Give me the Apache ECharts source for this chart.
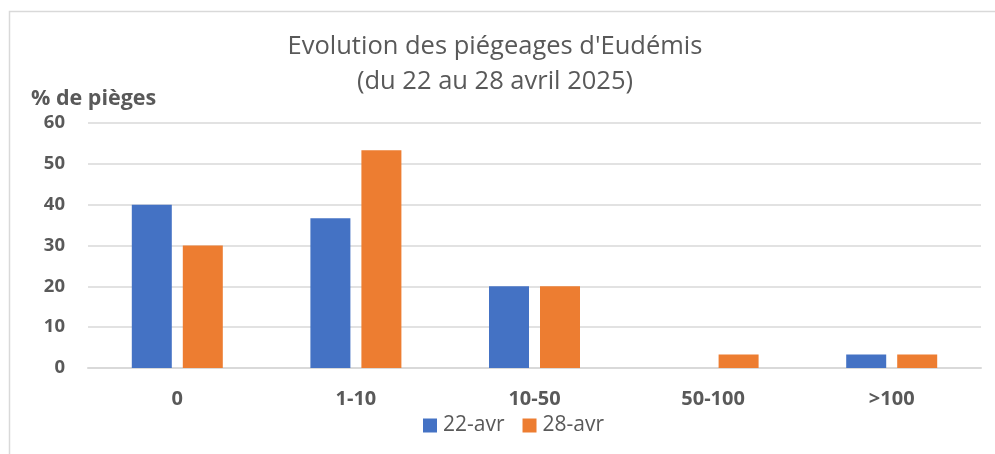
<!DOCTYPE html>
<html>
<head>
<meta charset="utf-8">
<script src="https://cdn.jsdelivr.net/npm/echarts@6/dist/echarts.min.js"></script>
<style>html,body{margin:0;padding:0;background:#fff;}#c{width:995px;height:454px;}</style>
</head>
<body>
<div id="c"></div>
<script>
const categories = ['0', '1-10', '10-50', '50-100', '>100'];
const seriesNames = ['22-avr', '28-avr'];
const values22 = [40, 36.7, 20, 0, 3.3];
const values28 = [30, 53.3, 20, 3.3, 3.3];
const yTicks = { min: 0, max: 60, interval: 10 };
const titleText = "Evolution des piégeages d'Eudémis\n(du 22 au 28 avril 2025)";
const yAxisName = '% de pièges';

const FONT = 'Open Sans';
const GRAY = '#595959';
const chart = echarts.init(document.getElementById('c'), null, { renderer: 'canvas' });
chart.setOption({
  animation: false,
  backgroundColor: '#fff',
  textStyle: { fontFamily: FONT },
  graphic: [{
    type: 'rect', silent: true, z: -1,
    shape: { x: 9.5, y: 11.5, width: 1000, height: 500 },
    style: { fill: 'none', stroke: '#d9d9d9', lineWidth: 1.5 }
  }],
  title: {
    text: titleText,
    left: 490,
    textAlign: 'center',
    top: 24,
    textStyle: { fontFamily: FONT, fontSize: 25.5, fontWeight: 'normal', color: GRAY, lineHeight: 35 }
  },
  legend: {
    data: seriesNames,
    left: 418, top: 410,
    itemWidth: 14, itemHeight: 14, itemGap: 18,
    icon: 'rect',
    textStyle: { fontFamily: FONT, fontSize: 21, color: GRAY, padding: [0, 0, 0, 1] }
  },
  grid: { left: 88, right: 14, top: 123, bottom: 86, containLabel: false },
  xAxis: {
    type: 'category',
    data: categories,
    axisLine: { lineStyle: { color: '#d9d9d9', width: 2 } },
    axisTick: { show: false },
    axisLabel: { fontFamily: FONT, fontSize: 20, fontWeight: 'bold', color: GRAY, margin: 21 }
  },
  yAxis: {
    type: 'value',
    min: yTicks.min, max: yTicks.max, interval: yTicks.interval,
    name: yAxisName,
    nameLocation: 'end',
    nameGap: 24,
    nameTextStyle: { fontFamily: FONT, fontSize: 21.5, fontWeight: 'bold', color: GRAY, align: 'left', verticalAlign: 'middle', padding: [0, 0, 0, -57] },
    axisLine: { show: false },
    axisTick: { show: false },
    splitLine: { lineStyle: { color: '#d9d9d9', width: 1.5 } },
    axisLabel: { fontFamily: FONT, fontSize: 18.5, fontWeight: 'bold', color: GRAY, margin: 23 }
  },
  series: [
    { name: seriesNames[0], type: 'bar', data: values22, barWidth: 40, barGap: '27.5%', itemStyle: { color: '#4472C4' } },
    { name: seriesNames[1], type: 'bar', data: values28, barWidth: 40, barGap: '27.5%', itemStyle: { color: '#ED7D31' } }
  ]
});
</script>
</body>
</html>
